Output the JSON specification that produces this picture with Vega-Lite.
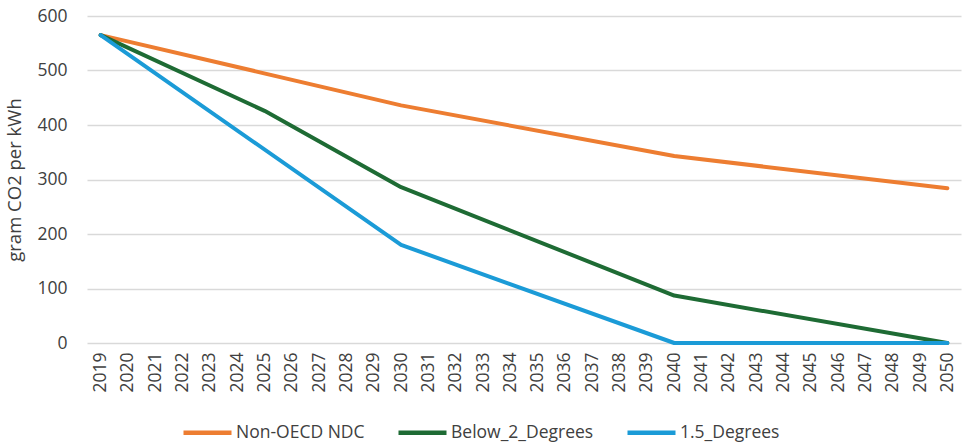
{
  "$schema": "https://vega.github.io/schema/vega-lite/v6.json",
  "width": 874,
  "height": 327,
  "autosize": {"type": "none"},
  "padding": {"left": 87, "top": 16, "right": 2, "bottom": 101},
  "background": "white",
  "config": {
    "view": {"stroke": null},
    "font": "Open Sans"
  },
  "data": {
    "values": [
      {"year": "2019", "series": "Non-OECD NDC", "value": 565},
      {"year": "2030", "series": "Non-OECD NDC", "value": 436},
      {"year": "2040", "series": "Non-OECD NDC", "value": 343},
      {"year": "2050", "series": "Non-OECD NDC", "value": 284},
      {"year": "2019", "series": "Below_2_Degrees", "value": 565},
      {"year": "2025", "series": "Below_2_Degrees", "value": 426},
      {"year": "2030", "series": "Below_2_Degrees", "value": 286},
      {"year": "2040", "series": "Below_2_Degrees", "value": 87},
      {"year": "2050", "series": "Below_2_Degrees", "value": 0},
      {"year": "2019", "series": "1.5_Degrees", "value": 565},
      {"year": "2030", "series": "1.5_Degrees", "value": 180},
      {"year": "2040", "series": "1.5_Degrees", "value": 0},
      {"year": "2050", "series": "1.5_Degrees", "value": 0}
    ]
  },
  "mark": {"type": "line", "strokeWidth": 4, "strokeCap": "round", "strokeJoin": "round"},
  "encoding": {
    "x": {
      "field": "year",
      "type": "ordinal",
      "scale": {
        "type": "point",
        "padding": 0.5,
        "domain": ["2019","2020","2021","2022","2023","2024","2025","2026","2027","2028","2029","2030","2031","2032","2033","2034","2035","2036","2037","2038","2039","2040","2041","2042","2043","2044","2045","2046","2047","2048","2049","2050"]
      },
      "axis": {
        "title": null,
        "labelAngle": -90,
        "labelAlign": "right",
        "labelBaseline": "middle",
        "labelFontSize": 17.5,
        "labelColor": "#404040",
        "labelPadding": 9,
        "ticks": false,
        "domain": false,
        "grid": false
      }
    },
    "y": {
      "field": "value",
      "type": "quantitative",
      "scale": {"domain": [0, 600], "nice": false},
      "axis": {
        "title": "gram CO2 per kWh",
        "titleFontSize": 18.5,
        "titleFontWeight": "normal",
        "titleColor": "#404040",
        "titlePadding": 12,
        "values": [0, 100, 200, 300, 400, 500, 600],
        "labelFontSize": 17.5,
        "labelColor": "#404040",
        "labelPadding": 20,
        "ticks": false,
        "domain": false,
        "gridColor": "#d9d9d9",
        "gridWidth": 1.5
      }
    },
    "color": {
      "field": "series",
      "type": "nominal",
      "scale": {
        "domain": ["Non-OECD NDC", "Below_2_Degrees", "1.5_Degrees"],
        "range": ["#ED7D31", "#1E6B34", "#1B9BD7"]
      },
      "legend": {
        "title": null,
        "orient": "none",
        "direction": "horizontal",
        "legendX": 94,
        "legendY": 390,
        "symbolType": "stroke",
        "symbolSize": 2304,
        "symbolStrokeWidth": 4.5,
        "labelFontSize": 17.5,
        "labelColor": "#404040",
        "labelOffset": 2,
        "columnPadding": 24,
        "symbolOffset": 0
      }
    }
  }
}
